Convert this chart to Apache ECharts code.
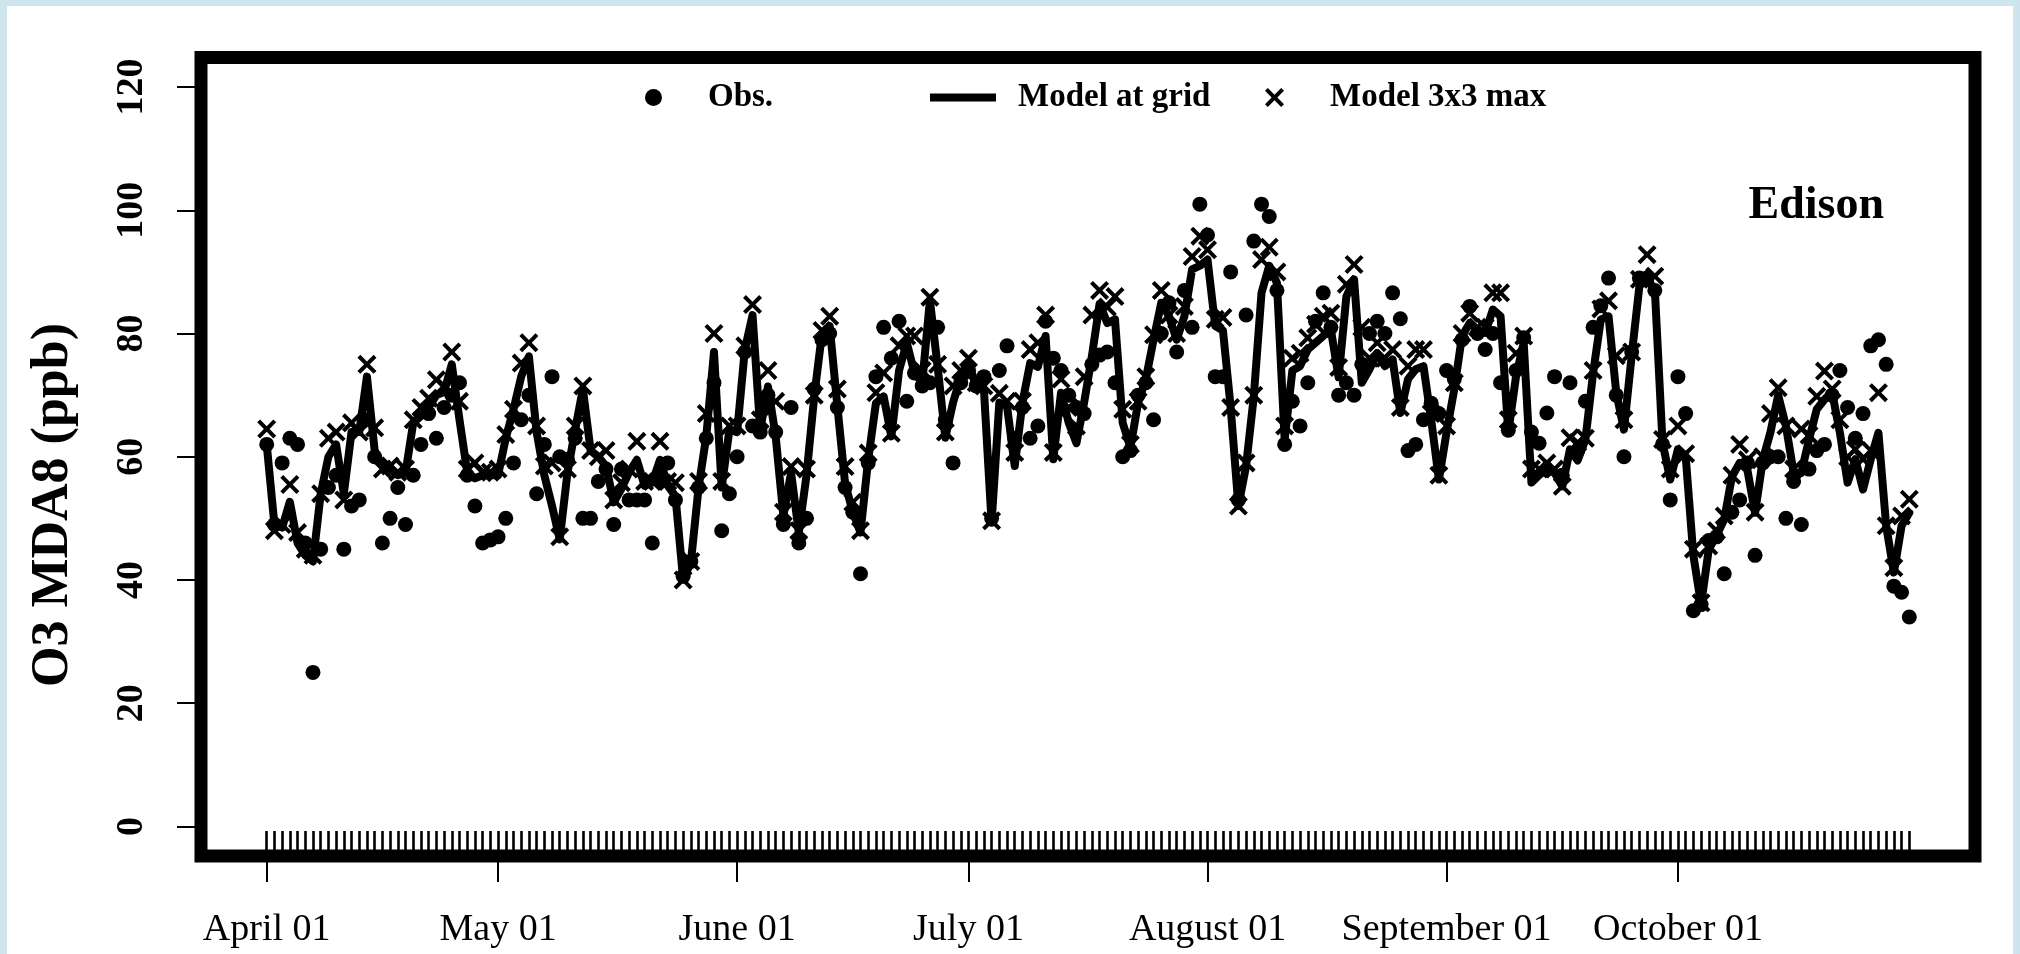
<!DOCTYPE html>
<html><head><meta charset="utf-8">
<script src="https://cdn.jsdelivr.net/npm/echarts@6/dist/echarts.min.js"></script>
<style>html,body{margin:0;padding:0;background:#fff;}#c{width:2020px;height:954px;}</style>
</head><body><div id="c"></div>
<script>
// Daily values, April 01 (day 0) to October 31 (day 213)
const obs = [
62,49,59,63,62,46,25,45,55,57,
45,52,53,66,60,46,50,55,49,57,
62,67,63,68,70,72,57,52,46,46.5,
47,50,59,66,70,54,62,73,60,59.6,
63,50,50,56,58,49,58,53,53,53,
46,56,59,53,40.6,43,55,63,72,48,
54,60,77,65,64,70,64,49,68,46,
50,71,79,80,68,55,51,41,59,73,
81,76,82,69,73.6,71.5,72,81,66,59,
72,74,71.5,73,50,74,78,63,68,63,
65,82,76,74,70,68,67,75,76.5,77,
72,60,61,70,72,66,80,85,77,87,
81,101,96,73,73,90,53,83,95,101,
99,87,62,69,65,72,82,86.6,81,70,
72,70,75,80,82,80,86.6,82.4,61,62,
66,68.7,67,74,72.6,79,84.4,80,77.4,80,
72,64.3,74,79.3,64,62.2,67.1,73,57,72,
61,69,81,84.5,89,70,60,77,89,89,
87,62,53,73,67,35,36,46.4,47,41,
51,53,59,44,59,60,60,50,56,49,
58,61,62,70,74,68,63,67,78,79,
75,39,38,34];
const modelGrid = [
62,49,48.5,52.7,46,44,43,54,60,62,
54,64,64,73,61,58.5,58,57,57.4,65.5,
66.6,68,70,70.5,75,66,57.5,56.5,57,57,
57,63,67.7,73,76.3,64,57,52,46.6,57.4,
64.4,71,61,60,58.5,52.6,54.8,57.5,59.5,55.3,
55.8,59.5,55.3,53.6,40.1,42.8,55,63.3,77,55,
64.4,64,77.4,83,64.4,71.4,63.3,50.4,57.4,47.7,
57,69.8,80,81.2,68.2,55.7,51,47.7,59.6,68.7,
69.8,63.3,74,78.5,73.6,72,85.4,74.6,63.1,68.8,
73,75.2,71.5,71,49.3,68.8,68.2,58.5,68.8,75.2,
74.6,79.6,59.6,70.4,65.5,62.2,68.8,76.3,84.8,81.7,
82.3,65.5,61.5,68.8,72.6,79,85,82.8,79,82.8,
90.4,91,92,81.2,80.5,68,52,58.5,69.8,86.6,
91,88.2,62.8,74,74.7,77.4,78.5,79.6,80.6,72.9,
86,88.8,72,74.2,76.8,74.7,75.8,67.1,72.6,74.2,
74.7,66,56.3,64,71,79.6,81.7,80.6,80.1,83.9,
82.8,64,73,78.5,55.8,57,58,57.4,55.2,61.2,
59.4,62.8,73.6,82.3,82.8,70.4,64.4,76.4,87.7,88.8,
87.2,62.3,56.3,61.2,60.1,44,36,45,47.2,49.8,
56.8,59,57.9,50.9,59.5,64,70,65,57.4,57.4,
62.8,67.7,69.3,70.4,63.9,55.8,59.6,54.7,59.6,63.9,
48.8,41.2,48.8,50.9];
const model3x3 = [
64.5,48,49,55.5,47.7,45,44,54,63,64,
53,65.5,64,75,64.7,58,58.5,57.5,58,66,
68,69.5,72.5,71.5,77,69,58,59,57.4,57.5,
58,63.6,67.7,75.2,78.5,65,58.5,59,47,58,
65,71.5,61,60,61,53,55.8,58,62.5,56,
56,62.5,56,55.8,40,43,56,67,80,56,
65,65,78,84.7,66,74,69,51,58.4,48,
58,70,80.5,82.8,71,58.4,52.6,48,60.6,70.4,
73.6,63.8,78,79.6,79.6,74,85.9,75,64,71.5,
74,76,72,71.5,49.6,70.3,69,60.7,69,77.4,
78.5,83,60.7,72.6,68,65,73,83,87,84.3,
86,67.7,62,69,73,79.8,87,83,80,84.4,
92.5,95.8,93.6,82.3,82.6,68,52,59,70,92,
94,90,65,76,76.8,79.3,81.5,82.8,83.3,74.5,
88,91.2,81,76,78.5,76,77.4,68,74.7,77.4,
77.4,67,57,65,72,80,83.3,81,81,86.6,
86.6,66,76.8,79.6,58,58,59,58,55.2,63.1,
62.3,63,74,84,85.3,76.4,66,77,88.8,92.8,
89.3,62.8,58,65,60.5,45,36.3,45.5,48,50.4,
57,62,59.5,51,60,67,71.2,65,58,64.5,
63.5,69.8,73.9,71,66,60,61.2,59.6,61,70.4,
48.8,42,50.4,53.1];
const monthDays = [0,30,61,91,122,153,183];
const monthLabels = ['April 01','May 01','June 01','July 01','August 01','September 01','October 01'];
const yTicks = [0,20,40,60,80,100,120];
const seriesNames = ['Obs.','Model at grid','Model 3x3 max'];
const siteName = 'Edison';
const yTitle = 'O3 MDA8 (ppb)';

const dayIndex = obs.map((_, i) => i);
const lastDay = dayIndex.length - 1;
const xPad = lastDay * 0.04;
const yPad = 120 * 0.04;
const X_PATH = 'path://M1.5,0L5,3.5L8.5,0L10,1.5L6.5,5L10,8.5L8.5,10L5,6.5L1.5,10L0,8.5L3.5,5L0,1.5Z';
const SERIF = '"Liberation Serif","Times New Roman",serif';
const legendText = {fontFamily: SERIF, fontWeight: 'bold', fontSize: 33, color: '#000'};

const chart = echarts.init(document.getElementById('c'), null, {renderer: 'canvas'});
chart.setOption({
  animation: false,
  backgroundColor: '#fff',
  grid: {left: 201, right: 45, top: 57.5, bottom: 98, show: true, borderColor: '#000', borderWidth: 13, backgroundColor: '#fff'},
  legend: [
    {data: [{name: seriesNames[0], icon: 'circle'}], left: 640, top: 76, itemWidth: 17, itemHeight: 17, selectedMode: false,
     textStyle: Object.assign({padding: [0, 0, 0, 41]}, legendText)},
    {data: [{name: seriesNames[1], icon: 'rect'}], left: 925, top: 76, itemWidth: 66, itemHeight: 8, selectedMode: false,
     textStyle: Object.assign({padding: [0, 0, 0, 17]}, legendText)},
    {data: [{name: seriesNames[2], icon: X_PATH}], left: 1260, top: 76, itemWidth: 19, itemHeight: 19, selectedMode: false,
     textStyle: Object.assign({padding: [0, 0, 0, 41]}, legendText)}
  ],
  xAxis: [
    {type: 'value', min: -xPad, max: lastDay + xPad, position: 'bottom',
     axisLine: {show: false, onZero: false}, splitLine: {show: false},
     axisTick: {show: true, inside: false, length: 26, customValues: monthDays, lineStyle: {color: '#000', width: 2}},
     axisLabel: {show: true, customValues: monthDays, margin: 55, fontFamily: SERIF, fontSize: 38, color: '#000',
       formatter: v => monthLabels[monthDays.indexOf(Math.round(v))] || ''}},
    {type: 'value', min: -xPad, max: lastDay + xPad, position: 'bottom',
     axisLine: {show: false, onZero: false}, splitLine: {show: false}, axisLabel: {show: false},
     axisTick: {show: true, inside: true, length: 25, customValues: dayIndex, lineStyle: {color: '#000', width: 2.6}}}
  ],
  yAxis: {type: 'value', min: -yPad, max: 120 + yPad, position: 'left',
    axisLine: {show: false, onZero: false}, splitLine: {show: false},
    axisTick: {show: true, length: 24, customValues: yTicks, lineStyle: {color: '#000', width: 2}},
    axisLabel: {show: true, customValues: yTicks, rotate: 90, margin: 50, fontFamily: SERIF, fontWeight: 'bold', fontSize: 38, color: '#000'}},
  series: [
    {name: seriesNames[0], type: 'scatter', z: 2, symbol: 'circle', symbolSize: 15,
     itemStyle: {color: '#000', opacity: 1}, data: dayIndex.map(i => [i, obs[i]])},
    {name: seriesNames[1], type: 'line', z: 3, showSymbol: false, symbol: 'none',
     lineStyle: {color: '#000', width: 8, join: 'round', cap: 'round'}, itemStyle: {color: '#000'},
     data: dayIndex.map(i => [i, modelGrid[i]])},
    {name: seriesNames[2], type: 'scatter', z: 4, symbol: X_PATH, symbolSize: 19,
     itemStyle: {color: '#000', opacity: 1}, data: dayIndex.map(i => [i, model3x3[i]])}
  ],
  graphic: [
    {type: 'rect', shape: {x: 0, y: 0, width: 7, height: 954}, style: {fill: '#cfe5ed'}, silent: true},
    {type: 'rect', shape: {x: 0, y: 0, width: 2020, height: 6}, style: {fill: '#cfe5ed'}, silent: true},
    {type: 'rect', shape: {x: 2013, y: 0, width: 7, height: 954}, style: {fill: '#cfe5ed'}, silent: true},
    {type: 'text', x: 54, y: 505, rotation: Math.PI / 2,
     style: {text: yTitle, fontFamily: SERIF, fontWeight: 'bold', fontSize: 52, fill: '#000',
       textAlign: 'center', textVerticalAlign: 'middle', align: 'center', verticalAlign: 'middle'}},
    {type: 'text', x: 1884, y: 206,
     style: {text: siteName, fontFamily: SERIF, fontWeight: 'bold', fontSize: 46, fill: '#000',
       textAlign: 'right', textVerticalAlign: 'middle', align: 'right', verticalAlign: 'middle'}}
  ]
});
</script></body></html>
